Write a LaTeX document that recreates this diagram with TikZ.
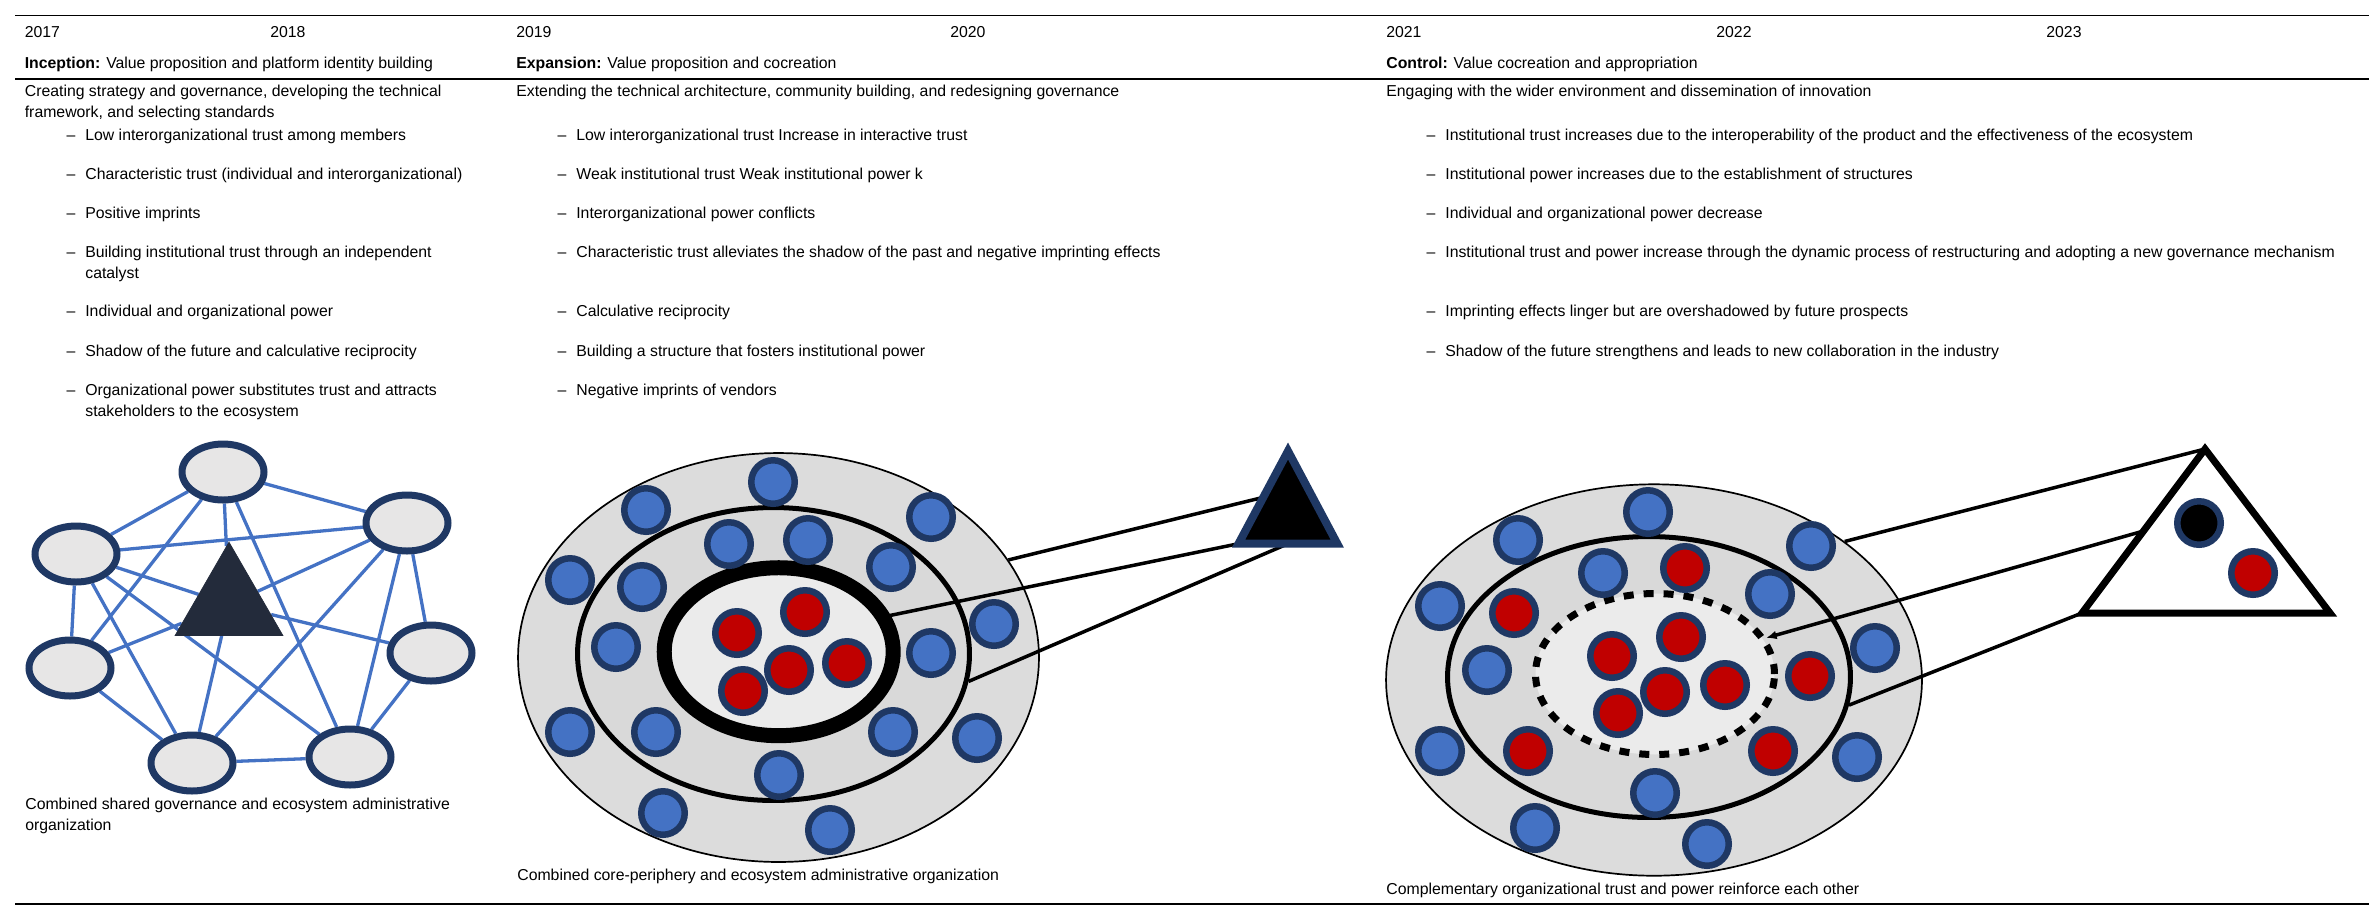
\documentclass[tikz,border=0pt]{standalone}
\usepackage{fontspec}
\setmainfont{Liberation Sans}
\usetikzlibrary{shapes.geometric, backgrounds, arrows.meta}

\definecolor{navy}{HTML}{1F3864}
\definecolor{tieblue}{HTML}{4472C4}
\definecolor{orgred}{HTML}{C00000}
\definecolor{hubdark}{HTML}{232B3B}
\definecolor{membergray}{HTML}{E7E6E6}
\definecolor{ringgray}{HTML}{DCDCDC}
\definecolor{midgray}{HTML}{D9D9D9}
\definecolor{coregray}{HTML}{EBEBEB}

\newcommand{\itemdash}{\llap{--\hspace{5.7pt}}}

\begin{document}
\begin{tikzpicture}[x=0.02cm, y=-0.02cm, font=\fontsize{9}{11.9}\selectfont]
    % Define node styles
    \tikzstyle{txt} = [anchor=base west, inner sep=0pt, align=left]
    \tikzstyle{rule} = [line width=0.75pt]
    \tikzstyle{member} = [ellipse, draw=navy, fill=membergray, line width=0.14cm, minimum width=1.64cm, minimum height=1.12cm, inner sep=0pt]
    \tikzstyle{hub} = [regular polygon, regular polygon sides=3, draw=hubdark, fill=hubdark, minimum size=2.49cm, inner sep=0pt]
    \tikzstyle{tie} = [draw=tieblue, line width=0.066cm]
    \tikzstyle{zone} = [ellipse, draw=black, inner sep=0pt]
    \tikzstyle{org} = [circle, draw=navy, fill=tieblue, line width=0.13cm, minimum size=0.87cm, inner sep=0pt]
    \tikzstyle{core} = [org, fill=orgred]
    \tikzstyle{admin} = [org, fill=black]
    \tikzstyle{link} = [draw=black, line width=0.07cm]

    \useasboundingbox (0,0) rectangle (2369,921);

    % Table frame
    \draw[rule] (15,15.3) -- (2369,15.3);
    \draw[line width=1.5pt] (15,79) -- (2369,79);
    \draw[rule] (15,904) -- (2369,904);

    % Years
    \node[txt] (y17) at (24.5,37.3) {2017};
    \node[txt] (y18) at (270,37.3) {2018};
    \node[txt] (y19) at (516,37.3) {2019};
    \node[txt] (y20) at (950,37.3) {2020};
    \node[txt] (y21) at (1386,37.3) {2021};
    \node[txt] (y22) at (1716,37.3) {2022};
    \node[txt] (y23) at (2046,37.3) {2023};

    % Phases (two-line texts sit on their last baseline)
    \node[txt] (phase1) at (24.5,68.3) {\textbf{Inception:} Value proposition and platform identity building};
    \node[txt] (phase2) at (516,68.3) {\textbf{Expansion:} Value proposition and cocreation};
    \node[txt] (phase3) at (1386,68.3) {\textbf{Control:} Value cocreation and appropriation};

    \node[txt] (act1) at (24.5,117.7) {Creating strategy and governance, developing the technical\\framework, and selecting standards};
    \node[txt] (act2) at (516,96.7) {Extending the technical architecture, community building, and redesigning governance};
    \node[txt] (act3) at (1386,96.7) {Engaging with the wider environment and dissemination of innovation};

    % Inception items
    \node[txt] (a1) at (85,140) {\itemdash Low interorganizational trust among members};
    \node[txt] (a2) at (85,179) {\itemdash Characteristic trust (individual and interorganizational)};
    \node[txt] (a3) at (85,218) {\itemdash Positive imprints};
    \node[txt] (a4) at (85,278) {\itemdash Building institutional trust through an independent\\catalyst};
    \node[txt] (a5) at (85,316.5) {\itemdash Individual and organizational power};
    \node[txt] (a6) at (85,356) {\itemdash Shadow of the future and calculative reciprocity};
    \node[txt] (a7) at (85,416) {\itemdash Organizational power substitutes trust and attracts\\stakeholders to the ecosystem};

    % Expansion items
    \node[txt] (b1) at (576,140) {\itemdash Low interorganizational trust Increase in interactive trust};
    \node[txt] (b2) at (576,179) {\itemdash Weak institutional trust Weak institutional power k};
    \node[txt] (b3) at (576,218) {\itemdash Interorganizational power conflicts};
    \node[txt] (b4) at (576,257) {\itemdash Characteristic trust alleviates the shadow of the past and negative imprinting effects};
    \node[txt] (b5) at (576,316.5) {\itemdash Calculative reciprocity};
    \node[txt] (b6) at (576,356) {\itemdash Building a structure that fosters institutional power};
    \node[txt] (b7) at (576,395) {\itemdash Negative imprints of vendors};

    % Control items
    \node[txt] (c1) at (1445,140) {\itemdash Institutional trust increases due to the interoperability of the product and the effectiveness of the ecosystem};
    \node[txt] (c2) at (1445,179) {\itemdash Institutional power increases due to the establishment of structures};
    \node[txt] (c3) at (1445,218) {\itemdash Individual and organizational power decrease};
    \node[txt] (c4) at (1445,257) {\itemdash Institutional trust and power increase through the dynamic process of restructuring and adopting a new governance mechanism};
    \node[txt] (c5) at (1445,316.5) {\itemdash Imprinting effects linger but are overshadowed by future prospects};
    \node[txt] (c6) at (1445,356) {\itemdash Shadow of the future strengthens and leads to new collaboration in the industry};

    % Shared governance network
    \node[member] (ntop) at (223,472) {};
    \node[member] (nul) at (76,554) {};
    \node[member] (nur) at (407,523) {};
    \node[member] (nl) at (70,668) {};
    \node[member] (nr) at (431,653) {};
    \node[member] (nbl) at (192,763) {};
    \node[member] (nbr) at (350,757) {};
    \node[hub] (hubA) at (229,604.4) {};

    \begin{scope}[on background layer]
    \draw[tie] (ntop) -- (nur);
    \draw[tie] (ntop) -- (nul);
    \draw[tie] (ntop) -- (nl);
    \draw[tie] (ntop) -- (hubA);
    \draw[tie] (ntop) -- (nbr);
    \draw[tie] (nul) -- (nur);
    \draw[tie] (nul) -- (hubA);
    \draw[tie] (nul) -- (nl);
    \draw[tie] (nul) -- (nbl);
    \draw[tie] (nul) -- (nbr);
    \draw[tie] (nur) -- (hubA);
    \draw[tie] (nur) -- (nbl);
    \draw[tie] (nur) -- (nbr);
    \draw[tie] (nur) -- (nr);
    \draw[tie] (nl) -- (hubA);
    \draw[tie] (hubA) -- (nr);
    \draw[tie] (hubA) -- (nbl);
    \draw[tie] (nl) -- (nbl);
    \draw[tie] (nbl) -- (nbr);
    \draw[tie] (nr) -- (nbr);
    \end{scope}

    % Core-periphery
    \node[zone, line width=0.034cm, fill=ringgray, minimum width=10.42cm, minimum height=8.18cm] (periB) at (778.5,657.5) {};
    \node[zone, line width=0.1cm, fill=midgray, minimum width=7.84cm, minimum height=5.86cm] (ringB) at (773.5,654) {};
    \node[zone, line width=0.3cm, fill=coregray, minimum width=4.58cm, minimum height=3.36cm] (coreB) at (778.7,651.7) {};

    \node[org] (p1) at (773,482) {};
    \node[org] (p2) at (646,510) {};
    \node[org] (p3) at (931,517) {};
    \node[org] (p4) at (570,580) {};
    \node[org] (p5) at (729,544) {};
    \node[org] (p6) at (808,540) {};
    \node[org] (p7) at (891,567) {};
    \node[org] (p8) at (642,587) {};
    \node[org] (p9) at (616,647) {};
    \node[org] (p10) at (994,624) {};
    \node[org] (p11) at (931,653) {};
    \node[org] (p12) at (570,732) {};
    \node[org] (p13) at (656,732) {};
    \node[org] (p14) at (893,732) {};
    \node[org] (p15) at (977,738) {};
    \node[org] (p16) at (779,775) {};
    \node[org] (p17) at (663,813) {};
    \node[org] (p18) at (830,830) {};
    \node[core] (r1) at (737,633) {};
    \node[core] (r2) at (805,612) {};
    \node[core] (r3) at (789,670) {};
    \node[core] (r4) at (847,663) {};
    \node[core] (r5) at (743,691) {};

    \coordinate (apexB) at (1288,451);
    \coordinate (leftB) at (1238.5,543.7);
    \coordinate (rightB) at (1337.3,543.7);
    \coordinate (sideB) at (1263,497.4);
    \coordinate (baseB) at (1288,543.7);
    \draw[link] (periB.23) -- (sideB);
    \draw[link, {Latex[length=6pt,width=5pt]}-, shorten <=-0.28cm] (coreB.18) -- (leftB);
    \draw[link] (ringB.-8.5) -- (baseB);
    \draw[draw=navy, fill=black, line width=0.16cm] (apexB) -- (leftB) -- (rightB) -- cycle;

    % Trust and power
    \node[zone, line width=0.034cm, fill=ringgray, minimum width=10.72cm, minimum height=7.83cm] (periC) at (1654,680) {};
    \node[zone, line width=0.1cm, fill=midgray, minimum width=8.06cm, minimum height=5.62cm] (ringC) at (1649,677) {};
    \node[zone, line width=0.14cm, dash pattern=on 0.2cm off 0.2cm, fill=coregray, minimum width=4.78cm, minimum height=3.22cm] (coreC) at (1655,674) {};

    \node[org] (q1) at (1648,512) {};
    \node[org] (q2) at (1518,540) {};
    \node[org] (q3) at (1811,546) {};
    \node[org] (q4) at (1440,606) {};
    \node[org] (q5) at (1603,573) {};
    \node[org] (q6) at (1770,594) {};
    \node[org] (q7) at (1487,670) {};
    \node[org] (q8) at (1875,648) {};
    \node[org] (q9) at (1440,751) {};
    \node[org] (q10) at (1857,757) {};
    \node[org] (q11) at (1655,793) {};
    \node[org] (q12) at (1535,828) {};
    \node[org] (q13) at (1707,844) {};
    \node[core] (s1) at (1685,568) {};
    \node[core] (s2) at (1514,613) {};
    \node[core] (s3) at (1612,656) {};
    \node[core] (s4) at (1681,637) {};
    \node[core] (s5) at (1725,685) {};
    \node[core] (s6) at (1665,692) {};
    \node[core] (s7) at (1618,713) {};
    \node[core] (s8) at (1810,676) {};
    \node[core] (s9) at (1528,751) {};
    \node[core] (s10) at (1773,751) {};

    \coordinate (apexC) at (2205,449);
    \coordinate (leftC) at (2082,613);
    \coordinate (rightC) at (2330,613);
    \coordinate (sideC) at (2143.5,531);
    \draw[link] (periC.36) -- (apexC);
    \draw[link, {Latex[length=6pt,width=5pt]}-] (coreC.18) -- (sideC);
    \draw[link] (ringC.-8) -- (leftC);
    \draw[fill=white, line width=0.14cm] (apexC) -- (leftC) -- (rightC) -- cycle;
    \node[admin] (adm) at (2199,523) {};
    \node[core] (s11) at (2253,573) {};

    % Captions
    \node[txt] (cap1) at (25,830.7) {Combined shared governance and ecosystem administrative\\organization};
    \node[txt] (cap2) at (517,880.5) {Combined core-periphery and ecosystem administrative organization};
    \node[txt] (cap3) at (1386,894) {Complementary organizational trust and power reinforce each other};
\end{tikzpicture}
\end{document}
